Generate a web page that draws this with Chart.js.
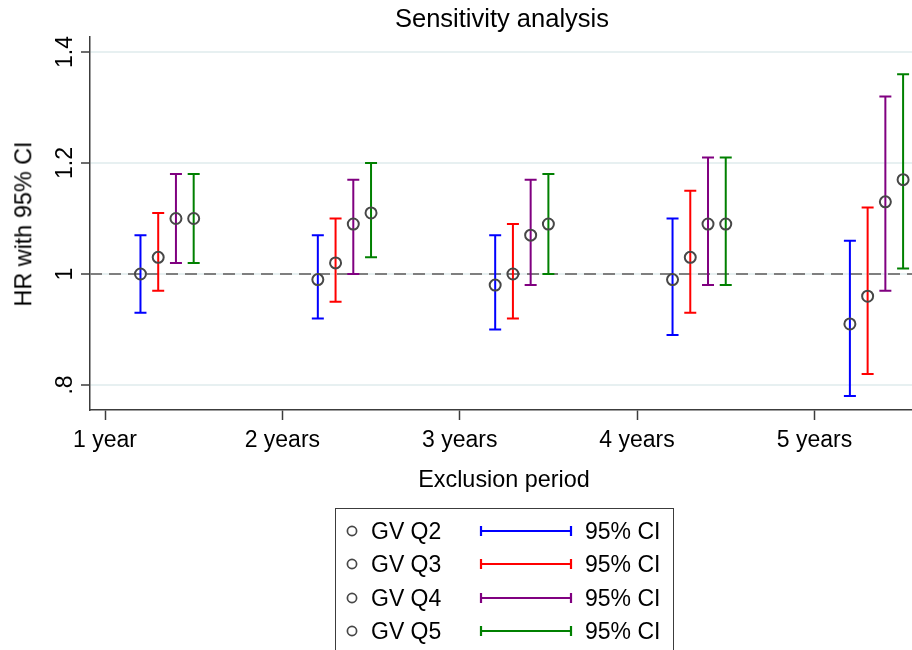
<!DOCTYPE html>
<html>
<head>
<meta charset="utf-8">
<title>Sensitivity analysis</title>
<script src="https://cdn.jsdelivr.net/npm/chart.js@4.4.1/dist/chart.umd.min.js"></script>
<style>
  body { margin: 0; background: #fff; font-family: "Liberation Sans", Arial, sans-serif; color: #000; }
  #wrap { position: relative; width: 912px; height: 650px; overflow: hidden; }
  #hrChart { position: absolute; left: 0; top: 0; }
  .lbl { position: absolute; white-space: nowrap; line-height: 1; transform: translate(-50%, -50%); }
  .rot { transform: translate(-50%, -50%) rotate(-90deg); }
  #legend { position: absolute; left: 335px; top: 508px; width: 337px; height: 170px; border: 1.5px solid #3c3c3c; }
  .row { position: absolute; left: 0; height: 0; }
  .row span, .row svg { position: absolute; }
  .row span { font-size: 23px; line-height: 1; top: -11px; white-space: nowrap; }
</style>
</head>
<body>
<div id="wrap">
  <canvas id="hrChart" width="920" height="650"></canvas>
  <div class="lbl" style="left:502px;top:19px;font-size:25.5px">Sensitivity analysis</div>
  <div class="lbl rot" style="left:24px;top:224px;font-size:23.4px">HR with 95% CI</div>
  <div class="lbl" style="left:504px;top:480px;font-size:23.4px">Exclusion period</div>
  <div id="legend"></div>
</div>
<script>
// exclusion periods (x = 1..5)
const periods = ['1 year', '2 years', '3 years', '4 years', '5 years'];
const seriesNames = ['GV Q2', 'GV Q3', 'GV Q4', 'GV Q5'];

// hazard ratios per period
const hrQ2 = [1.00, 0.99, 0.98, 0.99, 0.91];
const hrQ3 = [1.03, 1.02, 1.00, 1.03, 0.96];
const hrQ4 = [1.10, 1.09, 1.07, 1.09, 1.13];
const hrQ5 = [1.10, 1.11, 1.09, 1.09, 1.17];

// 95% CI bounds
const loQ2 = [0.93, 0.92, 0.90, 0.89, 0.78];
const hiQ2 = [1.07, 1.07, 1.07, 1.10, 1.06];
const loQ3 = [0.97, 0.95, 0.92, 0.93, 0.82];
const hiQ3 = [1.11, 1.10, 1.09, 1.15, 1.12];
const loQ4 = [1.02, 1.00, 0.98, 0.98, 0.97];
const hiQ4 = [1.18, 1.17, 1.17, 1.21, 1.32];
const loQ5 = [1.02, 1.03, 1.00, 0.98, 1.01];
const hiQ5 = [1.18, 1.20, 1.18, 1.21, 1.36];

const yTicks = [0.8, 1.0, 1.2, 1.4];
const yTickLabels = ['.8', '1', '1.2', '1.4'];
const refValue = 1;

const hr = [hrQ2, hrQ3, hrQ4, hrQ5];
const lo = [loQ2, loQ3, loQ4, loQ5];
const hi = [hiQ2, hiQ3, hiQ4, hiQ5];
const colors = ['#0000ff', '#ff0000', '#800080', '#008000'];
const offsets = [0.2, 0.3, 0.4, 0.5];   // horizontal shift of each series within a period
const markerColor = '#474747';
const FONT = '"Liberation Sans", Arial, sans-serif';

// legend (html)
(function(){
    const box = document.getElementById('legend');
    seriesNames.forEach(function(name, s){
        const row = document.createElement('div');
        row.className = 'row';
        row.style.top = (22 + s * 33.3) + 'px';
        row.innerHTML =
            '<svg width="14" height="14" style="left:9px;top:-7px"><circle cx="7" cy="7" r="4.6" fill="none" stroke="' + markerColor + '" stroke-width="1.7"/></svg>' +
            '<span style="left:35px">' + name + '</span>' +
            '<svg width="94" height="14" style="left:143px;top:-7px"><g stroke="' + colors[s] + '" stroke-width="2.2" fill="none">' +
            '<line x1="2" y1="7" x2="92" y2="7"/><line x1="2" y1="2" x2="2" y2="12"/><line x1="92" y1="2" x2="92" y2="12"/></g></svg>' +
            '<span style="left:249px">95% CI</span>';
        box.appendChild(row);
    });
})();

const errorBars = {
    id: 'errorBars',
    beforeDatasetsDraw(chart) {
        const ctx = chart.ctx, xs = chart.scales.x, ys = chart.scales.y, area = chart.chartArea;
        ctx.save();
        // reference line at HR = 1
        const yr = ys.getPixelForValue(refValue);
        ctx.strokeStyle = '#7f7f7f';
        ctx.lineWidth = 2;
        ctx.setLineDash([12, 7]);
        ctx.beginPath();
        ctx.moveTo(area.left, yr);
        ctx.lineTo(area.right, yr);
        ctx.stroke();
        ctx.setLineDash([]);
        // caps + whiskers
        ctx.lineWidth = 2;
        for (let s = 0; s < hr.length; s++) {
            ctx.strokeStyle = colors[s];
            for (let i = 0; i < periods.length; i++) {
                const px = xs.getPixelForValue(i + 1 + offsets[s]);
                const y1 = ys.getPixelForValue(lo[s][i]);
                const y2 = ys.getPixelForValue(hi[s][i]);
                ctx.beginPath();
                ctx.moveTo(px, y1); ctx.lineTo(px, y2);
                ctx.moveTo(px - 6, y1); ctx.lineTo(px + 6, y1);
                ctx.moveTo(px - 6, y2); ctx.lineTo(px + 6, y2);
                ctx.stroke();
            }
        }
        ctx.restore();
    }
};

const yLabels = {
    id: 'yLabels',
    afterDraw(chart) {
        const ctx = chart.ctx, ys = chart.scales.y;
        ctx.save();
        ctx.fillStyle = '#000';
        ctx.font = '23px ' + FONT;
        ctx.textAlign = 'center';
        ctx.textBaseline = 'alphabetic';
        yTicks.forEach(function(v, k){
            ctx.save();
            ctx.translate(72, ys.getPixelForValue(v));
            ctx.rotate(-Math.PI / 2);
            ctx.fillText(yTickLabels[k], 0, 0);
            ctx.restore();
        });
        ctx.restore();
    }
};

try {
    const el = document.getElementById('hrChart');
    new Chart(el, {
        type: 'scatter',
        data: {
            datasets: hr.map(function(vals, s){
                return {
                    label: seriesNames[s],
                    data: vals.map(function(v, i){ return { x: i + 1 + offsets[s], y: v }; }),
                    pointStyle: 'circle',
                    pointRadius: 5.5,
                    pointBackgroundColor: 'rgba(0,0,0,0)',
                    pointBorderColor: markerColor,
                    pointBorderWidth: 2
                };
            })
        },
        options: {
            responsive: false,
            animation: false,
            devicePixelRatio: 1,
            layout: { padding: { top: 37, left: 0, right: 0, bottom: 0 } },
            plugins: { legend: { display: false }, tooltip: { enabled: false }, title: { display: false } },
            scales: {
                x: {
                    type: 'linear',
                    min: 0.9154,
                    max: 5.553,
                    afterBuildTicks: function(scale){ scale.ticks = periods.map(function(p, i){ return { value: i + 1 }; }); },
                    afterFit: function(scale){ scale.height = 240; },
                    ticks: {
                        autoSkip: false,
                        maxRotation: 0,
                        padding: 7,
                        color: '#000',
                        font: { family: FONT, size: 23 },
                        callback: function(v){ return periods[Math.round(v) - 1]; }
                    },
                    grid: { drawOnChartArea: false, drawTicks: true, tickLength: 10, tickColor: '#3c3c3c', tickWidth: 1.5 },
                    border: { display: true, color: '#3c3c3c', width: 1.5 }
                },
                y: {
                    min: 0.755,
                    max: 1.427,
                    afterBuildTicks: function(scale){ scale.ticks = yTicks.map(function(v){ return { value: v }; }); },
                    afterFit: function(scale){ scale.width = 90; },
                    ticks: { color: 'rgba(0,0,0,0)', font: { size: 1 }, padding: 0 },
                    grid: { color: '#e7f0f1', lineWidth: 2, drawTicks: true, tickLength: 9, tickColor: '#3c3c3c', tickWidth: 1.5 },
                    border: { display: true, color: '#3c3c3c', width: 1.5 }
                }
            }
        },
        plugins: [errorBars, yLabels]
    });
} catch (e) {
    console.error('Failed to render sensitivity chart', e);
}
</script>
</body>
</html>
